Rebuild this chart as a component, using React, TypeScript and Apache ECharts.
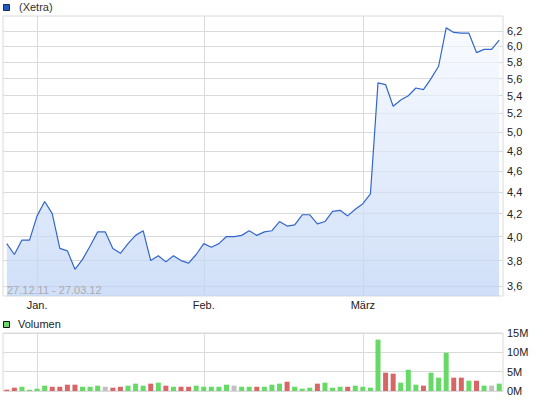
import React, { useEffect, useRef } from 'react';
import * as echarts from 'echarts';

const dates = [
  '27.12.11', '28.12.11', '29.12.11', '30.12.11',
  '02.01.12', '03.01.12', '04.01.12', '05.01.12', '06.01.12',
  '09.01.12', '10.01.12', '11.01.12', '12.01.12', '13.01.12',
  '16.01.12', '17.01.12', '18.01.12', '19.01.12', '20.01.12',
  '23.01.12', '24.01.12', '25.01.12', '26.01.12', '27.01.12',
  '30.01.12', '31.01.12',
  '01.02.12', '02.02.12', '03.02.12',
  '06.02.12', '07.02.12', '08.02.12', '09.02.12', '10.02.12',
  '13.02.12', '14.02.12', '15.02.12', '16.02.12', '17.02.12',
  '20.02.12', '21.02.12', '22.02.12', '23.02.12', '24.02.12',
  '27.02.12', '28.02.12', '29.02.12',
  '01.03.12', '02.03.12',
  '05.03.12', '06.03.12', '07.03.12', '08.03.12', '09.03.12',
  '12.03.12', '13.03.12', '14.03.12', '15.03.12', '16.03.12',
  '19.03.12', '20.03.12', '21.03.12', '22.03.12', '23.03.12',
  '26.03.12', '27.03.12',
];

const prices = [
  3.94, 3.85, 3.97, 3.97, 4.18, 4.31, 4.2, 3.9, 3.88, 3.73,
  3.81, 3.92, 4.04, 4.04, 3.9, 3.86, 3.94, 4.01, 4.05, 3.8,
  3.84, 3.79, 3.84, 3.8, 3.78, 3.85, 3.94, 3.91, 3.94, 4.0,
  4.0, 4.01, 4.05, 4.01, 4.04, 4.05, 4.13, 4.09, 4.1, 4.19,
  4.19, 4.11, 4.13, 4.22, 4.23, 4.18, 4.24, 4.29, 4.38, 5.55,
  5.53, 5.28, 5.35, 5.4, 5.49, 5.47, 5.6, 5.75, 6.24, 6.18,
  6.17, 6.17, 5.92, 5.96, 5.96, 6.08,
];

// volume in millions
const volumes = [
  0.34, 0.86, 1.1, 0.34, 0.6, 1.38, 1.1, 1.1, 1.64, 1.64,
  1.1, 1.1, 1.38, 1.1, 0.86, 1.1, 1.38, 1.9, 1.38, 1.9,
  2.15, 1.38, 1.1, 1.1, 1.1, 1.38, 1.1, 1.1, 1.1, 1.64,
  1.38, 1.1, 1.1, 1.1, 1.1, 1.64, 1.9, 2.4, 1.1, 0.6,
  0.86, 1.9, 2.15, 0.86, 1.1, 1.1, 1.38, 1.1, 0.86, 13.3,
  4.74, 4.48, 2.15, 5.5, 1.64, 1.38, 4.74, 3.45, 9.9, 3.45,
  3.45, 2.67, 2.67, 1.38, 1.38, 1.9,
];

// u = up, d = down, n = unchanged
const volumeDirection = [
  'd', 'd', 'u', 'u', 'u', 'u', 'd', 'd', 'd', 'd',
  'u', 'u', 'u', 'n', 'd', 'd', 'u', 'u', 'u', 'd',
  'u', 'd', 'u', 'd', 'd', 'u', 'u', 'u', 'u', 'u',
  'n', 'u', 'u', 'd', 'u', 'u', 'u', 'd', 'u', 'u',
  'u', 'd', 'u', 'u', 'u', 'd', 'u', 'u', 'u', 'u',
  'd', 'd', 'u', 'u', 'u', 'd', 'u', 'u', 'u', 'd',
  'd', 'u', 'd', 'u', 'n', 'u',
];

const monthTickDates = ['02.01.12', '01.02.12', '01.03.12'];
const monthTickLabels = ['Jan.', 'Feb.', 'März'];
const priceTicks = [3.6, 3.8, 4.0, 4.2, 4.4, 4.6, 4.8, 5.0, 5.2, 5.4, 5.6, 5.8, 6.0, 6.2];
const volumeTicks = [0, 5, 10, 15];
const priceLegend = '(Xetra)';
const volumeLegend = 'Volumen';
const rangeLabel = '27.12.11 - 27.03.12';

const FONT = '"Liberation Sans", Arial, sans-serif';
const dirColor: Record<string, string> = { u: '#66d966', d: '#d96666', n: '#c0c0c0' };

export default function App() {
  const ref = useRef<HTMLDivElement>(null);
  useEffect(() => {
    if (!ref.current) return;
    const chart = echarts.init(ref.current, null, { renderer: 'svg' });
    const tickIdx = monthTickDates.map((d) => dates.indexOf(d));
    const gridLine = { show: true, lineStyle: { color: '#dadada', width: 1, type: 'solid' } };
    const labelStyle = { fontFamily: FONT, fontSize: 11, color: '#222' };
    chart.setOption({
      animation: false,
      grid: [
        { left: 3, right: 42, top: 16, height: 280, show: true, borderColor: '#dadada', borderWidth: 1, backgroundColor: 'transparent' },
        { left: 3, right: 42, top: 333, height: 58, show: true, borderColor: '#dadada', borderWidth: 1, backgroundColor: 'transparent' },
      ],
      xAxis: [
        {
          type: 'value', gridIndex: 0, min: -0.5, max: dates.length - 0.5,
          axisLine: { show: false },
          axisTick: { show: false, customValues: tickIdx },
          splitLine: gridLine,
          axisLabel: {
            customValues: tickIdx, margin: 3, ...labelStyle,
            formatter: (v: number) => monthTickLabels[tickIdx.indexOf(Math.round(v))] ?? '',
          },
        },
        {
          type: 'value', gridIndex: 1, min: -0.5, max: dates.length - 0.5,
          axisLine: { show: false },
          axisTick: { show: false, customValues: tickIdx },
          splitLine: gridLine,
          axisLabel: { show: false, customValues: tickIdx },
        },
      ],
      yAxis: [
        {
          type: 'log', gridIndex: 0, position: 'right', min: 3.524, max: 6.4,
          axisLine: { show: false },
          axisTick: { show: false, customValues: priceTicks },
          splitLine: gridLine,
          axisLabel: {
            customValues: priceTicks, margin: 4, ...labelStyle,
            formatter: (v: number) => v.toFixed(1).replace('.', ','),
          },
        },
        {
          type: 'value', gridIndex: 1, position: 'right', min: 0, max: 15, interval: 5,
          axisLine: { show: false },
          axisTick: { show: false, customValues: volumeTicks },
          splitLine: gridLine,
          axisLabel: {
            customValues: volumeTicks, margin: 4, ...labelStyle,
            formatter: (v: number) => `${v}M`,
          },
        },
      ],
      series: [
        {
          type: 'line', name: priceLegend, xAxisIndex: 0, yAxisIndex: 0,
          data: prices.map((p, i) => [i, p]),
          symbol: 'none', lineStyle: { color: '#3366cc', width: 1.2 },
          areaStyle: {
            origin: 'start',
            color: new echarts.graphic.LinearGradient(0, 0, 0, 1, [
              { offset: 0, color: '#f6f9ff' },
              { offset: 1, color: '#bcd2f5' },
            ]),
          },
          z: 3,
        },
        {
          type: 'bar', name: volumeLegend, xAxisIndex: 1, yAxisIndex: 1,
          barWidth: 5,
          data: volumes.map((v, i) => ({ value: [i, v], itemStyle: { color: dirColor[volumeDirection[i]] } })),
        },
      ],
      graphic: [
        { type: 'rect', shape: { x: 3.5, y: 4.5, width: 6, height: 6 }, style: { fill: '#1f5cc2', stroke: '#1a2a50', lineWidth: 1 } },
        { type: 'text', x: 19, y: 7, style: { text: priceLegend, fontFamily: FONT, fontSize: 11, fill: '#333', verticalAlign: 'middle' } },
        { type: 'rect', shape: { x: 3.5, y: 321.5, width: 6, height: 6 }, style: { fill: '#66d966', stroke: '#111', lineWidth: 1 } },
        { type: 'text', x: 18, y: 324, style: { text: volumeLegend, fontFamily: FONT, fontSize: 11, fill: '#222', verticalAlign: 'middle' } },
        { type: 'text', x: 7, y: 290, z: 10, style: { text: rangeLabel, fontFamily: FONT, fontSize: 11, fill: '#aaaaaa', verticalAlign: 'middle' } },
      ],
    });
    return () => chart.dispose();
  }, []);
  return <div ref={ref} style={{ width: 545, height: 401, position: 'absolute', left: 0, top: 0 }} />;
}
